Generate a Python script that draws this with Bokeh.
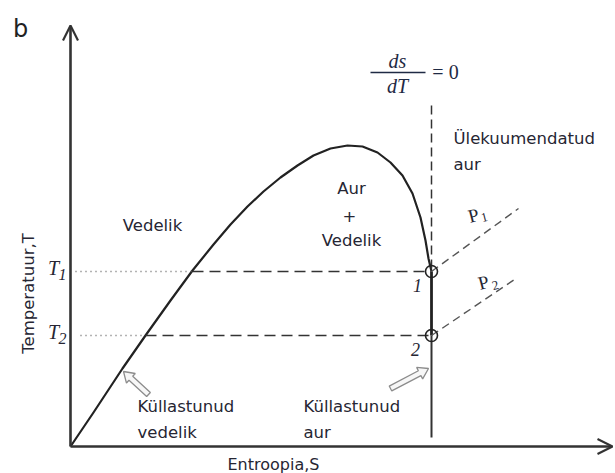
import numpy as np
from bokeh.plotting import figure
from bokeh.models import Range1d, Arrow, OpenHead
from bokeh.core.properties import value
from bokeh.embed import file_html
from bokeh.resources import INLINE

# Saturation dome (entropy S, temperature T), arbitrary units
dome_s = [0, 23, 52, 75, 100, 122, 143, 160, 177, 193, 210, 227, 243,
          260, 277, 292, 307, 320, 332, 342, 350, 355, 358, 361]
dome_t = [0, 34, 78, 111, 146, 176, 202, 222, 240, 255, 269, 281, 291,
          298, 301, 300, 294, 284, 271, 253, 229, 206, 188, 175]

# Isentropic saturated-vapour branch and the two states on it
s_vapour = 361
t_vapour_bottom = 9
t_levels = [175, 111]            # T1, T2
s_liquid_at_level = [122, 75]    # liquid line crossing at T1, T2
s_dotted_start = [5, 10]
state_labels = ["1", "2"]

# Isobars P1, P2 leaving the states
isobar_end_s = [448, 447]
isobar_end_t = [238, 169]

# ds/dT = 0 guide line
guide_top = 341

# Axis extents
s_axis_end = 542
t_axis_end = 421

FONT = value("DejaVu Sans")
SERIF = value("Liberation Serif")
INK = "#222222"
TXT = "#262633"

p = figure(width=615, height=473, x_range=Range1d(-70, 545), y_range=Range1d(-27, 446),
           x_axis_type=None, y_axis_type=None, output_backend="svg",
           toolbar_location=None, min_border=0)
p.grid.visible = False
p.outline_line_color = None
p.background_fill_color = "white"
p.border_fill_color = "white"

# axes with open arrow heads
p.add_layout(Arrow(end=OpenHead(size=15, line_width=2.2, line_color="#333333"),
                   x_start=0, y_start=0, x_end=0, y_end=t_axis_end,
                   line_width=2.6, line_color="#333333"))
p.add_layout(Arrow(end=OpenHead(size=15, line_width=2.2, line_color="#333333"),
                   x_start=0, y_start=0, x_end=s_axis_end, y_end=0,
                   line_width=2.6, line_color="#333333"))

# saturation dome
p.line(dome_s, dome_t, line_width=2.2, line_color=INK, line_join="round")
# vertical saturated-vapour line
p.line([s_vapour, s_vapour], [t_levels[0], t_levels[1]], line_width=2.8, line_color=INK)
p.line([s_vapour, s_vapour], [t_levels[1], t_vapour_bottom], line_width=2.0, line_color="#333333")

# ds/dT = 0 guide
p.line([s_vapour, s_vapour], [guide_top, t_levels[0]], line_width=1.5,
       line_color="#333333", line_dash="9 5")

# temperature levels: dotted to the liquid line, dashed across the dome
for t, s_liq, s0 in zip(t_levels, s_liquid_at_level, s_dotted_start):
    p.line([s0, s_liq], [t, t], line_width=1.4, line_color="#666666", line_dash="1 4")
    p.line([s_liq, s_vapour], [t, t], line_width=1.6, line_color="#333333", line_dash="11 6")

# isobars
for t, se, te in zip(t_levels, isobar_end_s, isobar_end_t):
    p.line([s_vapour, se], [t, te], line_width=1.4, line_color="#555555", line_dash="8 5")

# state markers
p.scatter([s_vapour] * 2, t_levels, marker="circle", size=12, fill_color=None,
          line_color=INK, line_width=1.6)


def block_arrow(tip, tail, shaft=5.5, head_w=13.0, head_l=10.0):
    tip = np.asarray(tip, float)
    tail = np.asarray(tail, float)
    d = tip - tail
    d /= np.hypot(*d)
    n = np.array([-d[1], d[0]])
    neck = tip - d * head_l
    pts = [tail + n * shaft / 2, neck + n * shaft / 2, neck + n * head_w / 2, tip,
           neck - n * head_w / 2, neck - n * shaft / 2, tail - n * shaft / 2]
    xs, ys = zip(*pts)
    p.patch(list(xs), list(ys), fill_color="#f7f7f7", line_color="#8c8c8c", line_width=1.3)


block_arrow((53, 75), (78, 52))
block_arrow((358, 78), (320, 58))

# region and curve labels (DejaVu Sans)
sans_x = [82, 281, 279, 281, 383, 383, 67, 67, 233, 233]
sans_y = [221, 258, 231, 206, 308, 282, 40, 14, 40, 14]
sans_text = ["Vedelik", "Aur", "+", "Vedelik", "Ülekuumendatud", "aur",
             "Küllastunud", "vedelik", "Küllastunud", "aur"]
sans_align = ["center", "center", "center", "center", "left", "left",
              "left", "left", "left", "left"]
p.text(x=sans_x, y=sans_y, text=sans_text, text_align=sans_align,
       text_baseline="middle", text_font=FONT, text_font_size="16.5px", text_color=TXT)

# panel letter
p.text(x=[-50], y=[418], text=["b"], text_align="center", text_baseline="middle",
       text_font=FONT, text_font_size="24px", text_color=INK)

# axis titles
p.text(x=[-42], y=[153], text=["Temperatuur,T"], angle=np.pi / 2, text_align="center",
       text_baseline="middle", text_font=FONT, text_font_size="16.5px", text_color=TXT)
p.text(x=[157], y=[-27], text=["Entroopia,S"], text_align="left", text_baseline="bottom",
       text_font=FONT, text_font_size="16px", text_color=TXT)

# temperature labels T1, T2
p.text(x=[-17, -17], y=[t + 4 for t in t_levels], text=["T", "T"], text_align="center",
       text_baseline="middle", text_font=SERIF, text_font_style="italic",
       text_font_size="20px", text_color=TXT)
p.text(x=[-8, -8], y=[t - 3 for t in t_levels], text=["1", "2"], text_align="center",
       text_baseline="middle", text_font=SERIF, text_font_style="italic",
       text_font_size="16px", text_color=TXT)

# state numbers
p.text(x=[347, 345], y=[t - 14 for t in t_levels], text=state_labels, text_align="center",
       text_baseline="middle", text_font=SERIF, text_font_style="italic",
       text_font_size="18px", text_color=TXT)

# isobar labels
p.text(x=[403, 413], y=[231, 164], text=["P", "P"], angle=0.25, text_align="center",
       text_baseline="middle", text_font=SERIF, text_font_size="19px", text_color=TXT)
p.text(x=[414, 425], y=[229, 161], text=["1", "2"], angle=0.25, text_align="center",
       text_baseline="middle", text_font=SERIF, text_font_size="13px", text_color=TXT)

# ds/dT = 0
p.text(x=[327, 327], y=[386, 361], text=["ds", "dT"], text_align="center",
       text_baseline="middle", text_font=SERIF, text_font_style="italic",
       text_font_size="20px", text_color="#1f2a44")
p.line([300, 355], [374, 374], line_width=1.3, line_color="#1f2a44")
p.text(x=[375], y=[375], text=["= 0"], text_align="center", text_baseline="middle",
       text_font=SERIF, text_font_size="20px", text_color="#1f2a44")

open("out.html", "w").write(file_html(p, INLINE))
